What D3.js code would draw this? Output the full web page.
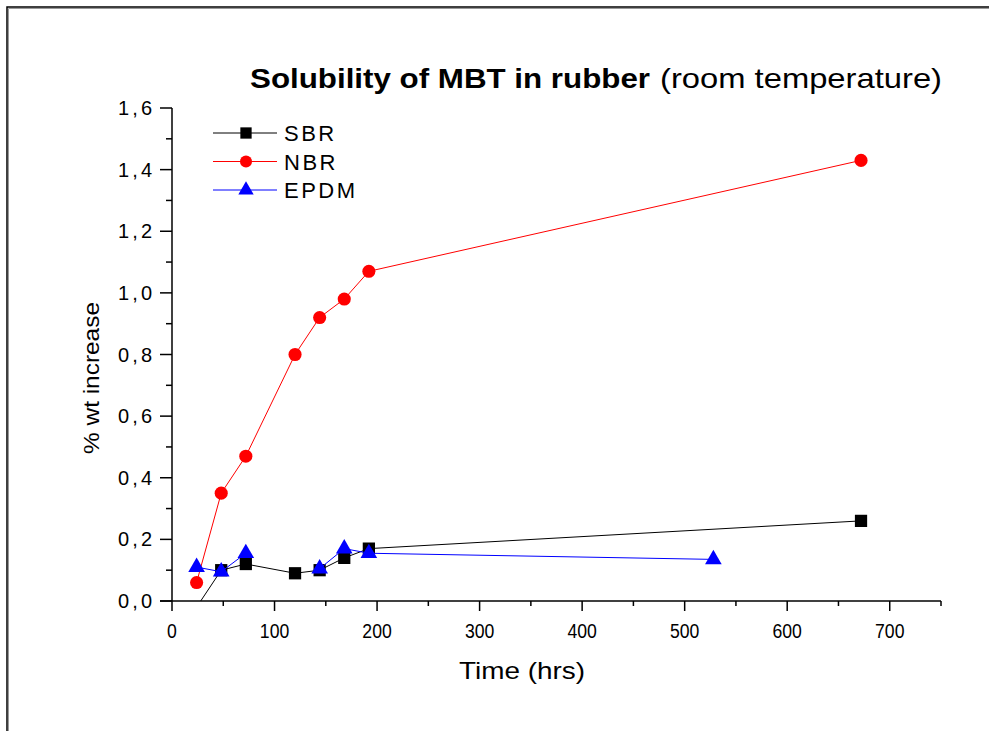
<!DOCTYPE html>
<html>
<head>
<meta charset="utf-8">
<script src="https://cdn.jsdelivr.net/npm/d3@7"></script>
<style>
  body { margin: 0; background: #fff; }
  svg text { font-family: "Liberation Sans", Arial, sans-serif; fill: #000; }
</style>
</head>
<body>
<script>
/* ---- data ---- */
var hours = [24, 48, 72, 120, 144, 168, 192, 672];
var sbr   = [-0.02, 0.10, 0.12, 0.09, 0.10, 0.14, 0.17, 0.26];
var nbr   = [0.06, 0.35, 0.47, 0.80, 0.92, 0.98, 1.07, 1.43];
var epdmHours = [24, 48, 72, 120, 144, 168, 192, 528];
var epdm      = [0.11, 0.095, 0.155, null, 0.105, 0.17, 0.155, 0.135];
var seriesNames = ["SBR", "NBR", "EPDM"];
var xTicks = [0, 100, 200, 300, 400, 500, 600, 700];
var yTicks = [0, 0.2, 0.4, 0.6, 0.8, 1.0, 1.2, 1.4, 1.6];

var W = 989, H = 731;

var svg = d3.select("body").append("svg")
  .attr("width", W)
  .attr("height", H);

// outer frame (runs off the right and bottom like the original)
svg.append("rect").attr("x", 7).attr("y", 7).attr("width", 1000).attr("height", 800)
  .attr("fill", "none").attr("stroke", "#000").attr("stroke-width", 1.5);
svg.append("path").attr("d", "M8.5,1000V8.5H1000")
  .attr("fill", "none").attr("stroke", "#999").attr("stroke-width", 1);

var x = d3.scaleLinear().domain([0, 750]).range([172, 941]);
var y = d3.scaleLinear().domain([0, 1.6]).range([601, 108]);

// clip to plot area (SBR first point is below zero)
svg.append("clipPath").attr("id", "plot")
  .append("rect")
  .attr("x", x(0)).attr("y", y(1.6) - 10)
  .attr("width", x(750) - x(0)).attr("height", y(0) - y(1.6) + 10);

/* ---- axes ---- */
var xAxis = svg.append("g").attr("transform", "translate(0," + y(0) + ")");
xAxis.append("line").attr("x1", x(0) - 12).attr("x2", x(750)).attr("stroke", "#000").attr("stroke-width", 1.5);
xAxis.selectAll(".minor").data(d3.range(50, 751, 100)).enter().append("line")
  .attr("x1", function(d) { return x(d); }).attr("x2", function(d) { return x(d); })
  .attr("y1", 0).attr("y2", 5).attr("stroke", "#000").attr("stroke-width", 1.5);
xAxis.selectAll(".major").data(xTicks).enter().append("line")
  .attr("x1", function(d) { return x(d); }).attr("x2", function(d) { return x(d); })
  .attr("y1", 0).attr("y2", 10).attr("stroke", "#000").attr("stroke-width", 1.5);
xAxis.selectAll("text").data(xTicks).enter().append("text")
  .attr("x", function(d) { return x(d); })
  .attr("y", 37)
  .attr("text-anchor", "middle")
  .attr("font-size", 20)
  .attr("textLength", function(d) { return String(d).length * 9.8; })
  .attr("lengthAdjust", "spacingAndGlyphs")
  .text(function(d) { return d; });

var yAxis = svg.append("g").attr("transform", "translate(" + x(0) + ",0)");
yAxis.append("line").attr("y1", y(0)).attr("y2", y(1.6)).attr("stroke", "#000").attr("stroke-width", 1.5);
yAxis.selectAll(".minor").data(d3.range(0.1, 1.6, 0.2)).enter().append("line")
  .attr("y1", function(d) { return y(d); }).attr("y2", function(d) { return y(d); })
  .attr("x1", 0).attr("x2", -6).attr("stroke", "#000").attr("stroke-width", 1.5);
yAxis.selectAll(".major").data(yTicks).enter().append("line")
  .attr("y1", function(d) { return y(d); }).attr("y2", function(d) { return y(d); })
  .attr("x1", 0).attr("x2", -12).attr("stroke", "#000").attr("stroke-width", 1.5);
yAxis.selectAll("text").data(yTicks).enter().append("text")
  .attr("x", -20)
  .attr("y", function(d) { return y(d) + 7; })
  .attr("text-anchor", "end")
  .attr("font-size", 20)
  .attr("textLength", 34).attr("lengthAdjust", "spacing")
  .text(function(d) { return d3.format(".1f")(d).replace(".", ","); });

// axis titles
svg.append("text")
  .attr("x", 522).attr("y", 679)
  .attr("text-anchor", "middle")
  .attr("font-size", 24)
  .attr("textLength", 126).attr("lengthAdjust", "spacingAndGlyphs")
  .text("Time (hrs)");
svg.append("text")
  .attr("transform", "translate(99,378) rotate(-90)")
  .attr("text-anchor", "middle")
  .attr("font-size", 22)
  .attr("textLength", 152).attr("lengthAdjust", "spacingAndGlyphs")
  .text("% wt increase");

// title
var title = svg.append("text").attr("x", 250).attr("y", 88).attr("font-size", 28);
title.append("tspan").attr("font-weight", "bold")
  .attr("textLength", 400).attr("lengthAdjust", "spacingAndGlyphs")
  .text("Solubility of MBT in rubber");
title.append("tspan").attr("dx", 10)
  .attr("textLength", 282).attr("lengthAdjust", "spacingAndGlyphs")
  .text("(room temperature)");

/* ---- series ---- */
var lineGen = d3.line()
  .defined(function(d) { return d[1] !== null; })
  .x(function(d) { return x(d[0]); })
  .y(function(d) { return y(d[1]); });

var series = [
  { name: seriesNames[0], color: "#000", shape: d3.symbolSquare, size: 150, pts: d3.zip(hours, sbr) },
  { name: seriesNames[1], color: "#ff0000", shape: d3.symbolCircle, size: 135, pts: d3.zip(hours, nbr) },
  { name: seriesNames[2], color: "#0000ff", shape: d3.symbolTriangle, size: 120, pts: d3.zip(epdmHours, epdm) }
];

var plot = svg.append("g").attr("clip-path", "url(#plot)");

series.forEach(function(s) {
  plot.append("path")
    .datum(s.pts)
    .attr("d", lineGen)
    .attr("fill", "none")
    .attr("stroke", s.color)
    .attr("stroke-width", 1);
  plot.selectAll(".m-" + s.name)
    .data(s.pts.filter(function(d) { return d[1] !== null; }))
    .enter().append("path")
    .attr("transform", function(d) { return "translate(" + x(d[0]) + "," + y(d[1]) + ")"; })
    .attr("d", d3.symbol().type(s.shape).size(s.size))
    .attr("fill", s.color);
});

/* ---- legend ---- */
var legend = svg.append("g");
series.forEach(function(s, i) {
  var ly = 133 + i * 28.5;
  legend.append("line").attr("x1", 213).attr("x2", 277).attr("y1", ly).attr("y2", ly)
    .attr("stroke", s.color).attr("stroke-width", 1);
  legend.append("path")
    .attr("transform", "translate(246," + ly + ")")
    .attr("d", d3.symbol().type(s.shape).size(s.size * 0.85))
    .attr("fill", s.color);
  legend.append("text")
    .attr("x", 284).attr("y", ly + 8)
    .attr("font-size", 22)
    .attr("letter-spacing", 2.5)
    .text(s.name);
});
</script>
</body>
</html>
